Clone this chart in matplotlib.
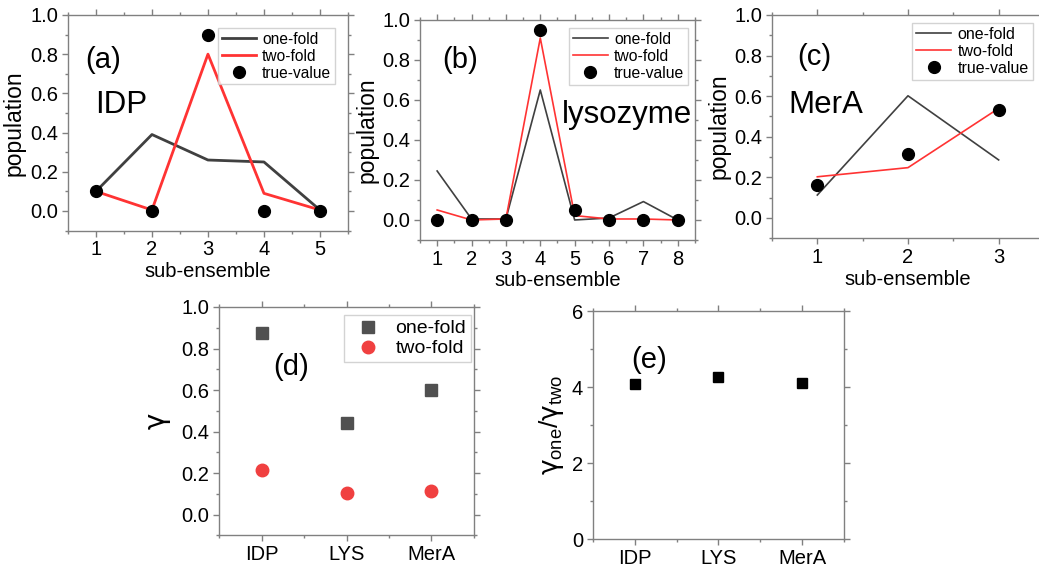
import matplotlib
matplotlib.use("Agg")
import matplotlib.pyplot as plt
from matplotlib.ticker import MultipleLocator, FormatStrFormatter

plt.rcParams['font.family'] = ['Liberation Sans', 'DejaVu Sans']
plt.rcParams['mathtext.fontset'] = 'custom'
plt.rcParams['mathtext.rm'] = 'Liberation Sans'
plt.rcParams['mathtext.it'] = 'DejaVu Sans'

# ---- data ----
a_x = [1, 2, 3, 4, 5]
a_one = [0.10, 0.39, 0.26, 0.25, 0.005]
a_two = [0.10, 0.005, 0.80, 0.09, 0.005]
a_true = [0.10, 0.0, 0.90, 0.0, 0.0]

b_x = [1, 2, 3, 4, 5, 6, 7, 8]
b_one = [0.245, 0.005, 0.005, 0.65, 0.0, 0.01, 0.092, 0.0]
b_two = [0.05, 0.0, 0.005, 0.91, 0.022, 0.005, 0.005, 0.0]
b_true = [0.0, 0.0, 0.0, 0.95, 0.05, 0.0, 0.0, 0.0]

c_x = [1, 2, 3]
c_one = [0.113, 0.602, 0.286]
c_two = [0.203, 0.248, 0.54]
c_true = [0.163, 0.313, 0.532]

d_cats = ["IDP", "LYS", "MerA"]
d_one = [0.875, 0.44, 0.60]
d_two = [0.213, 0.105, 0.113]

e_ratio = [4.08, 4.26, 4.10]

GRAY = '#404040'
RED = '#ff3333'
SPINE = '#808080'

fig = plt.figure(figsize=(10.39, 5.66), dpi=100)


def style(ax):
    for s in ax.spines.values():
        s.set_color(SPINE)
        s.set_linewidth(1.0)
    ax.tick_params(which='both', direction='out', color=SPINE,
                   top=True, right=True, labeltop=False, labelright=False)
    ax.tick_params(which='major', length=4, width=1, labelsize=14.5, pad=3)
    ax.tick_params(which='minor', length=2, width=1)


def pop_axes(pos, xlim):
    ax = fig.add_axes(pos)
    style(ax)
    ax.set_xlim(*xlim)
    ax.set_ylim(-0.1, 1.0)
    ax.xaxis.set_major_locator(MultipleLocator(1))
    ax.xaxis.set_minor_locator(MultipleLocator(0.5))
    ax.yaxis.set_major_locator(MultipleLocator(0.2))
    ax.yaxis.set_minor_locator(MultipleLocator(0.1))
    ax.yaxis.set_major_formatter(FormatStrFormatter('%.1f'))
    ax.set_xlabel('sub-ensemble', fontsize=14.5, labelpad=2)
    ax.set_ylabel('population', fontsize=16.5, labelpad=3)
    return ax


def legend(ax, anchor, fs=11.2, hl=2.2):
    lg = ax.legend(loc='upper right', bbox_to_anchor=anchor, borderaxespad=0,
                   fontsize=fs, frameon=True, fancybox=False, handlelength=hl,
                   handletextpad=0.4, labelspacing=0.12, borderpad=0.25)
    lg.get_frame().set_edgecolor('#c8c8c8')
    lg.get_frame().set_linewidth(1.0)
    return lg


# (a)
ax = pop_axes([0.0654, 0.5926, 0.2695, 0.381], (0.5, 5.5))
ax.plot(a_x, a_one, color=GRAY, lw=2.0, label='one-fold')
ax.plot(a_x, a_two, color=RED, lw=2.0, label='two-fold')
ax.plot(a_x, a_true, 'o', color='black', ms=8.5, ls='none', label='true-value', zorder=5)
legend(ax, (0.954, 0.94))
ax.text(0.06, 0.79, '(a)', transform=ax.transAxes, fontsize=21, va='center', ha='left')
ax.text(0.096, 0.583, 'IDP', transform=ax.transAxes, fontsize=22.5, va='center', ha='left')

# (b)
ax = pop_axes([0.4042, 0.576, 0.2647, 0.3887], (0.5, 8.5))
ax.plot(b_x, b_one, color=GRAY, lw=1.2, label='one-fold')
ax.plot(b_x, b_two, color=RED, lw=1.2, label='two-fold')
ax.plot(b_x, b_true, 'o', color='black', ms=8.5, ls='none', label='true-value', zorder=5)
legend(ax, (0.975, 0.964), fs=11.3)
ax.text(0.08, 0.818, '(b)', transform=ax.transAxes, fontsize=21, va='center', ha='left')
ax.text(0.516, 0.568, 'lysozyme', transform=ax.transAxes, fontsize=22.5, va='center', ha='left')

# (c)
ax = pop_axes([0.743, 0.579, 0.2618, 0.3945], (0.5, 3.5))
ax.plot(c_x, c_one, color=GRAY, lw=1.2, label='one-fold')
ax.plot(c_x, c_two, color=RED, lw=1.2, label='two-fold')
ax.plot(c_x, c_true, 'o', color='black', ms=8.5, ls='none', label='true-value', zorder=5)
legend(ax, (0.96, 0.964), fs=11.5)
ax.text(0.092, 0.81, '(c)', transform=ax.transAxes, fontsize=21, va='center', ha='left')
ax.text(0.059, 0.596, 'MerA', transform=ax.transAxes, fontsize=22.5, va='center', ha='left')

# (d)
ax = fig.add_axes([0.2108, 0.0539, 0.2454, 0.4037])
style(ax)
xd = range(1, len(d_cats) + 1)
ax.plot(xd, d_one, 's', color='#505050', ms=8, ls='none', label='one-fold')
ax.plot(xd, d_two, 'o', color='#f04040', ms=9, ls='none', label='two-fold')
ax.set_xlim(0.5, 3.5)
ax.set_ylim(-0.1, 1.0)
ax.set_xticks(list(xd))
ax.set_xticklabels(d_cats)
ax.xaxis.set_minor_locator(MultipleLocator(0.5))
ax.yaxis.set_major_locator(MultipleLocator(0.2))
ax.yaxis.set_minor_locator(MultipleLocator(0.1))
ax.yaxis.set_major_formatter(FormatStrFormatter('%.1f'))
ax.set_ylabel(r'$\gamma$', fontsize=20, labelpad=6)
legend(ax, (0.988, 0.965), fs=14, hl=2.0)
ax.text(0.212, 0.737, '(d)', transform=ax.transAxes, fontsize=21, va='center', ha='left')

# (e)
ax = fig.add_axes([0.5707, 0.0477, 0.2416, 0.4028])
style(ax)
ax.plot(xd, e_ratio, 's', color='black', ms=7.5, ls='none')
ax.set_xlim(0.5, 3.5)
ax.set_ylim(0, 6)
ax.set_xticks(list(xd))
ax.set_xticklabels(d_cats)
ax.xaxis.set_minor_locator(MultipleLocator(0.5))
ax.yaxis.set_major_locator(MultipleLocator(2))
ax.yaxis.set_minor_locator(MultipleLocator(1))
ax.set_ylabel(r'$\gamma_{\rm one}/\gamma_{\rm two}$', fontsize=19, labelpad=4)
ax.text(0.151, 0.785, '(e)', transform=ax.transAxes, fontsize=21, va='center', ha='left')

fig.savefig('out.png', dpi=100)
